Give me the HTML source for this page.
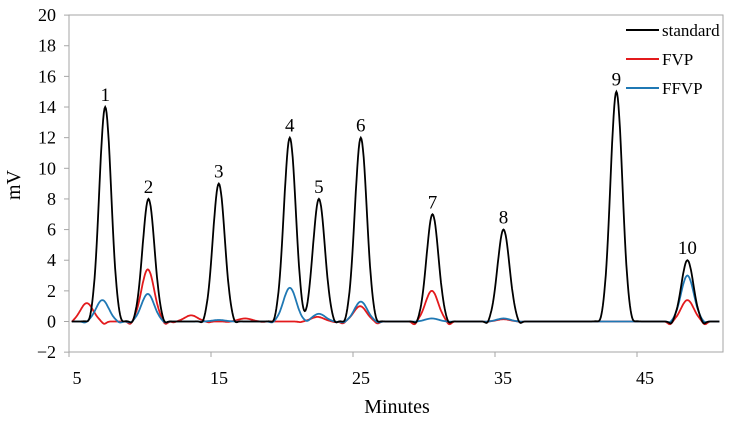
<!DOCTYPE html>
<html><head><meta charset="utf-8"><style>
body{margin:0;background:#fff}
svg{display:block;font-family:"Liberation Serif",serif}
</style></head><body>
<svg id="chart" width="731" height="422">
<rect x="69" y="15" width="654" height="337" fill="#fff" stroke="#a6a6a6" stroke-width="1"/>
<g id="axes"></g>
<g id="series"></g>
<text x="20" y="185" font-size="20" text-anchor="middle" transform="rotate(-90 20 185)">mV</text>
<text x="397" y="413" font-size="20" text-anchor="middle">Minutes</text>
<g>
<g><line x1="626" y1="30" x2="659" y2="30" stroke="#000" stroke-width="2"/><text x="662" y="36" font-size="17">standard</text></g>
<g><line x1="626" y1="59" x2="659" y2="59" stroke="#e31a1c" stroke-width="2"/><text x="662" y="65" font-size="17">FVP</text></g>
<g><line x1="626" y1="88" x2="659" y2="88" stroke="#1f78b4" stroke-width="2"/><text x="662" y="94" font-size="17">FFVP</text></g>
</g>
</svg>
<script>
const xTicks=[5,15,25,35,45];
const yTicks=[-2,0,2,4,6,8,10,12,14,16,18,20];
const stdTimes=[7.55,10.6,15.55,20.55,22.6,25.55,30.6,35.6,43.55,48.55];
const stdHeights=[14,8,9,12,8,12,7,6,15,4];
const peakLabels=["1","2","3","4","5","6","7","8","9","10"];
const fvpTimes=[6.25,10.55,13.6,17.4,22.5,25.5,30.55,35.6,48.55];
const fvpHeights=[1.2,3.4,0.4,0.2,0.3,1.0,2.0,0.15,1.4];
const ffvpTimes=[7.35,10.55,15.55,20.55,22.6,25.55,30.55,35.6,48.55];
const ffvpHeights=[1.4,1.8,0.1,2.2,0.5,1.3,0.2,0.2,3.0];
const NS='http://www.w3.org/2000/svg';
const X=t=>69+(t-5)*14.2;
const Y=v=>321.5-v*15.32;
const axes=document.getElementById('axes');
const ser=document.getElementById('series');
function mk(tag,attrs,parent){const e=document.createElementNS(NS,tag);for(const k in attrs)e.setAttribute(k,attrs[k]);parent.appendChild(e);return e;}
yTicks.forEach(v=>{
  mk('line',{x1:64,x2:69,y1:Y(v),y2:Y(v),stroke:'#a6a6a6'},axes);
  const t=mk('text',{x:56,y:Y(v)+6,'font-size':18,'text-anchor':'end'},axes);
  t.textContent=v<0?'\u2212'+(-v):v;
  
  
});
xTicks.forEach(v=>{
  mk('line',{x1:X(v),x2:X(v),y1:352,y2:357,stroke:'#a6a6a6'},axes);
  const t=mk('text',{x:X(v)+8,y:384,'font-size':18,'text-anchor':'middle'},axes);
  t.textContent=v;
  
  
});
function curve(times,heights,sig,dip){
  let d='';
  for(let t=5.2;t<=50.8;t+=0.05){
    let v=0;
    times.forEach((c,i)=>{const z=(t-c)/sig;v+=heights[i]*Math.exp(-z*z/2);
      const dz=(Math.abs(t-c)-2.7*sig)/(0.5*sig);v-=dip*Math.min(heights[i],1.5)*Math.exp(-dz*dz);});
    d+=(d?'L':'M')+X(t).toFixed(1)+','+Y(v).toFixed(1);
  }
  return d;
}
const p1=mk('path',{d:curve(fvpTimes,fvpHeights,0.45,0.15),fill:'none',stroke:'#e31a1c','stroke-width':1.8},ser);


const p2=mk('path',{d:curve(ffvpTimes,ffvpHeights,0.45,0.07),fill:'none',stroke:'#1f78b4','stroke-width':1.8},ser);


const p0=mk('path',{d:curve(stdTimes,stdHeights,0.42,0.14),fill:'none',stroke:'#000','stroke-width':1.8},ser);


stdTimes.forEach((c,i)=>{
  const t=mk('text',{x:X(c),y:Y(stdHeights[i])-6,'font-size':19,'text-anchor':'middle'},ser);
  t.textContent=peakLabels[i];
  
  
});
</script>
</body></html>
